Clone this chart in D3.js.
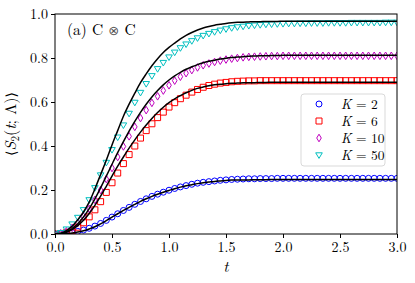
<!DOCTYPE html>
<html lang="en">
<head>
    <meta charset="utf-8">
    <style>
        body { margin: 0; background: white; }
    </style>
    <script src="https://d3js.org/d3.v7.min.js"></script>
</head>
<body>
<script type="text/javascript">

    // time grid, step 0.05 from 0 to 3
    var tGrid = d3.range(61).map(function(i) { return i * 0.05; });

    var xTicks = [0, 0.5, 1.0, 1.5, 2.0, 2.5, 3.0];
    var yTicks = [0, 0.2, 0.4, 0.6, 0.8, 1.0];

    var legendLabels = ["2", "6", "10", "50"];

    // theory curves (black lines)
    var lineK2 = [0, 0.0005, 0.002, 0.005, 0.009, 0.015, 0.023, 0.033, 0.046, 0.061,
        0.077, 0.092, 0.107, 0.121, 0.135, 0.148, 0.16, 0.171, 0.181, 0.19,
        0.198, 0.206, 0.213, 0.219, 0.224, 0.229, 0.233, 0.236, 0.239, 0.241,
        0.243, 0.245, 0.245, 0.246, 0.246, 0.247, 0.247, 0.247, 0.248, 0.248,
        0.248, 0.248, 0.248, 0.248, 0.248, 0.248, 0.248, 0.248, 0.248, 0.248,
        0.248, 0.248, 0.248, 0.248, 0.248, 0.248, 0.248, 0.248, 0.248, 0.248, 0.248];
    var lineK6 = [0, 0.002, 0.008, 0.02, 0.038, 0.062, 0.093, 0.13, 0.172, 0.217,
        0.263, 0.308, 0.35, 0.39, 0.428, 0.463, 0.495, 0.525, 0.552, 0.576,
        0.597, 0.614, 0.629, 0.642, 0.653, 0.662, 0.668, 0.674, 0.678, 0.681,
        0.683, 0.685, 0.686, 0.687, 0.688, 0.688, 0.689, 0.689, 0.69, 0.69,
        0.69, 0.69, 0.69, 0.69, 0.69, 0.69, 0.69, 0.69, 0.69, 0.69,
        0.69, 0.69, 0.69, 0.69, 0.69, 0.69, 0.69, 0.69, 0.69, 0.69, 0.69];
    var lineK10 = [0, 0.002, 0.01, 0.025, 0.047, 0.077, 0.115, 0.16, 0.21, 0.263,
        0.317, 0.37, 0.42, 0.468, 0.512, 0.553, 0.59, 0.623, 0.652, 0.678,
        0.7, 0.719, 0.735, 0.749, 0.76, 0.77, 0.778, 0.785, 0.79, 0.795,
        0.799, 0.802, 0.804, 0.806, 0.808, 0.809, 0.81, 0.81, 0.811, 0.811,
        0.812, 0.812, 0.812, 0.812, 0.812, 0.812, 0.812, 0.812, 0.812, 0.812,
        0.812, 0.812, 0.812, 0.812, 0.812, 0.812, 0.812, 0.812, 0.812, 0.812, 0.812];
    var lineK50 = [0, 0.003, 0.015, 0.035, 0.065, 0.10, 0.145, 0.205, 0.27, 0.335,
        0.405, 0.47, 0.535, 0.59, 0.64, 0.688, 0.728, 0.765, 0.797, 0.825,
        0.848, 0.868, 0.887, 0.903, 0.916, 0.927, 0.936, 0.943, 0.949, 0.953,
        0.957, 0.96, 0.962, 0.963, 0.964, 0.965, 0.965, 0.966, 0.966, 0.966,
        0.967, 0.967, 0.967, 0.967, 0.967, 0.967, 0.967, 0.967, 0.967, 0.967,
        0.967, 0.967, 0.967, 0.967, 0.967, 0.967, 0.967, 0.967, 0.967, 0.967, 0.967];

    // numerical points (markers)
    var ptsK2 = [0, 0.001, 0.003, 0.007, 0.012, 0.018, 0.026, 0.036, 0.048, 0.062,
        0.077, 0.092, 0.107, 0.121, 0.135, 0.148, 0.16, 0.171, 0.181, 0.19,
        0.199, 0.207, 0.214, 0.22, 0.226, 0.231, 0.235, 0.238, 0.241, 0.244,
        0.246, 0.248, 0.249, 0.25, 0.251, 0.251, 0.252, 0.252, 0.252, 0.253,
        0.253, 0.253, 0.253, 0.253, 0.253, 0.253, 0.253, 0.253, 0.253, 0.253,
        0.253, 0.253, 0.253, 0.253, 0.253, 0.253, 0.253, 0.253, 0.253, 0.253, 0.253];
    var ptsK6 = [0, 0.001, 0.006, 0.016, 0.031, 0.051, 0.078, 0.11, 0.147, 0.189,
        0.233, 0.277, 0.32, 0.361, 0.4, 0.436, 0.47, 0.501, 0.529, 0.554,
        0.577, 0.597, 0.615, 0.631, 0.645, 0.657, 0.667, 0.675, 0.681, 0.686,
        0.689, 0.692, 0.694, 0.695, 0.696, 0.696, 0.697, 0.697, 0.697, 0.697,
        0.697, 0.697, 0.697, 0.697, 0.697, 0.697, 0.697, 0.697, 0.697, 0.697,
        0.697, 0.697, 0.697, 0.697, 0.697, 0.697, 0.697, 0.697, 0.697, 0.697, 0.697];
    var ptsK10 = [0, 0.003, 0.012, 0.028, 0.05, 0.079, 0.114, 0.155, 0.2, 0.25,
        0.3, 0.35, 0.398, 0.444, 0.487, 0.527, 0.563, 0.596, 0.626, 0.652,
        0.676, 0.697, 0.715, 0.731, 0.745, 0.757, 0.767, 0.775, 0.782, 0.788,
        0.793, 0.797, 0.8, 0.803, 0.805, 0.806, 0.807, 0.808, 0.809, 0.809,
        0.81, 0.81, 0.81, 0.81, 0.81, 0.81, 0.81, 0.81, 0.81, 0.81,
        0.81, 0.81, 0.81, 0.81, 0.81, 0.81, 0.81, 0.81, 0.81, 0.81, 0.81];
    var ptsK50 = [0, 0.006, 0.022, 0.045, 0.075, 0.11, 0.155, 0.21, 0.268, 0.325,
        0.383, 0.44, 0.495, 0.548, 0.598, 0.643, 0.683, 0.719, 0.751, 0.779,
        0.804, 0.826, 0.846, 0.863, 0.878, 0.891, 0.902, 0.911, 0.919, 0.926,
        0.932, 0.937, 0.941, 0.944, 0.947, 0.949, 0.951, 0.953, 0.954, 0.955,
        0.956, 0.957, 0.957, 0.958, 0.958, 0.959, 0.959, 0.959, 0.96, 0.96,
        0.96, 0.96, 0.961, 0.961, 0.961, 0.961, 0.961, 0.961, 0.962, 0.962, 0.962];

    var seriesColors = ["#0000ff", "#ff0000", "#bf00bf", "#00bfbf"];
    var seriesShapes = ["circle", "square", "diamond", "triangle"];
    var seriesLines = [lineK2, lineK6, lineK10, lineK50];
    var seriesPoints = [ptsK2, ptsK6, ptsK10, ptsK50];

    var SERIF = "'Latin Modern Roman', 'Liberation Serif'";

    var margin = {top: 14, right: 18, bottom: 49, left: 55},
        width = 415 - margin.left - margin.right,
        height = 283 - margin.top - margin.bottom;

    var svg = d3.select("body")
        .append("svg")
        .attr("width", 415)
        .attr("height", 283);

    var g = svg.append("g").attr("transform", "translate(" + margin.left + "," + margin.top + ")");

    var x = d3.scaleLinear().domain([0, 3]).range([0, width]);
    var y = d3.scaleLinear().domain([0, 1]).range([height, 0]);

    // marker path around (0,0)
    function markerPath(shape) {
        if (shape === "circle") return d3.symbol().type(d3.symbolCircle).size(Math.PI * 9)();
        if (shape === "square") return "M-3,-3H3V3H-3Z";
        if (shape === "diamond") return "M0,-3.8L2.3,0L0,3.8L-2.3,0Z";
        return "M-3.3,-2.2L3.3,-2.2L0,3.4Z";
    }

    g.append("defs").append("clipPath").attr("id", "clip")
        .append("rect").attr("width", width).attr("height", height);

    var plot = g.append("g").attr("clip-path", "url(#clip)");

    var line = d3.line()
        .x(function(d, i) { return x(tGrid[i]); })
        .y(function(d) { return y(d); })
        .curve(d3.curveMonotoneX);

    // markers first, lines over them
    seriesPoints.forEach(function(pts, s) {
        plot.append("g").selectAll("path")
            .data(pts)
            .enter()
            .append("path")
            .attr("d", markerPath(seriesShapes[s]))
            .attr("transform", function(d, i) { return "translate(" + x(tGrid[i]) + "," + y(d) + ")"; })
            .attr("fill", "none")
            .attr("stroke", seriesColors[s])
            .attr("stroke-width", 1);
    });

    seriesLines.forEach(function(vals) {
        plot.append("path")
            .datum(vals)
            .attr("d", line)
            .attr("fill", "none")
            .attr("stroke", "#000")
            .attr("stroke-width", 1.5);
    });

    // axes
    var xAxis = g.append("g")
        .attr("transform", "translate(0," + height + ")")
        .call(d3.axisBottom(x).tickValues(xTicks).tickFormat(d3.format(".1f")).tickSize(4).tickSizeOuter(0).tickPadding(4));

    var yAxis = g.append("g")
        .call(d3.axisLeft(y).tickValues(yTicks).tickFormat(d3.format(".1f")).tickSize(4).tickSizeOuter(0).tickPadding(3));

    [xAxis, yAxis].forEach(function(a) {
        a.select(".domain").remove();
        a.selectAll("line").attr("stroke", "#000");
        a.selectAll("text").attr("fill", "#000").style("font-size", "14px");
    });

    g.append("rect")
        .attr("width", width)
        .attr("height", height)
        .attr("fill", "none")
        .attr("stroke", "#000")
        .attr("stroke-width", 1);

    // panel label
    var lab = g.append("text").attr("x", 12).attr("y", 21).style("font-size", "15.5px");
    lab.append("tspan").text("(a) C ");
    lab.append("tspan").attr("class", "sym").text("\u2297").style("font-size", "13px").style("fill", "#555");
    lab.append("tspan").text(" C");

    // axis titles
    g.append("text")
        .attr("x", width / 2)
        .attr("y", height + 38)
        .attr("text-anchor", "middle")
        .style("font-size", "16px")
        .style("font-style", "italic")
        .text("t");

    var yl = g.append("text")
        .attr("transform", "translate(" + (-39) + "," + (height / 2) + ") rotate(-90)")
        .attr("text-anchor", "middle")
        .style("font-size", "16px");
    yl.append("tspan").attr("class", "sym").text("\u27e8").style("font-size", "14px");
    yl.append("tspan").text("S").style("font-style", "italic");
    yl.append("tspan").text("2").style("font-size", "11px").attr("dy", 3);
    yl.append("tspan").text("(").attr("dy", -3);
    yl.append("tspan").text("t").style("font-style", "italic");
    yl.append("tspan").text("; \u039b)");
    yl.append("tspan").attr("class", "sym").text("\u27e9").style("font-size", "14px");

    // legend
    var leg = g.append("g").attr("transform", "translate(" + (301 - margin.left) + "," + (94 - margin.top) + ")");
    leg.append("rect")
        .attr("width", 84)
        .attr("height", 72)
        .attr("rx", 3)
        .attr("fill", "#fff")
        .attr("stroke", "#d9d9d9")
        .attr("stroke-width", 1);

    legendLabels.forEach(function(k, s) {
        var row = leg.append("g").attr("transform", "translate(0," + (10 + s * 17) + ")");
        row.append("path")
            .attr("d", markerPath(seriesShapes[s]))
            .attr("transform", "translate(18,0)")
            .attr("fill", "none")
            .attr("stroke", seriesColors[s])
            .attr("stroke-width", 1);
        var tx = row.append("text").attr("x", 40).attr("y", 4.5).style("font-size", "13.5px");
        tx.append("tspan").text("K").style("font-style", "italic");
        tx.append("tspan").text(" = " + k);
    });

    // fonts set directly on every text node
    svg.selectAll("text").style("font-family", SERIF);
    svg.selectAll("tspan.sym").style("font-family", "'DejaVu Sans'");

</script>
</body>
</html>
